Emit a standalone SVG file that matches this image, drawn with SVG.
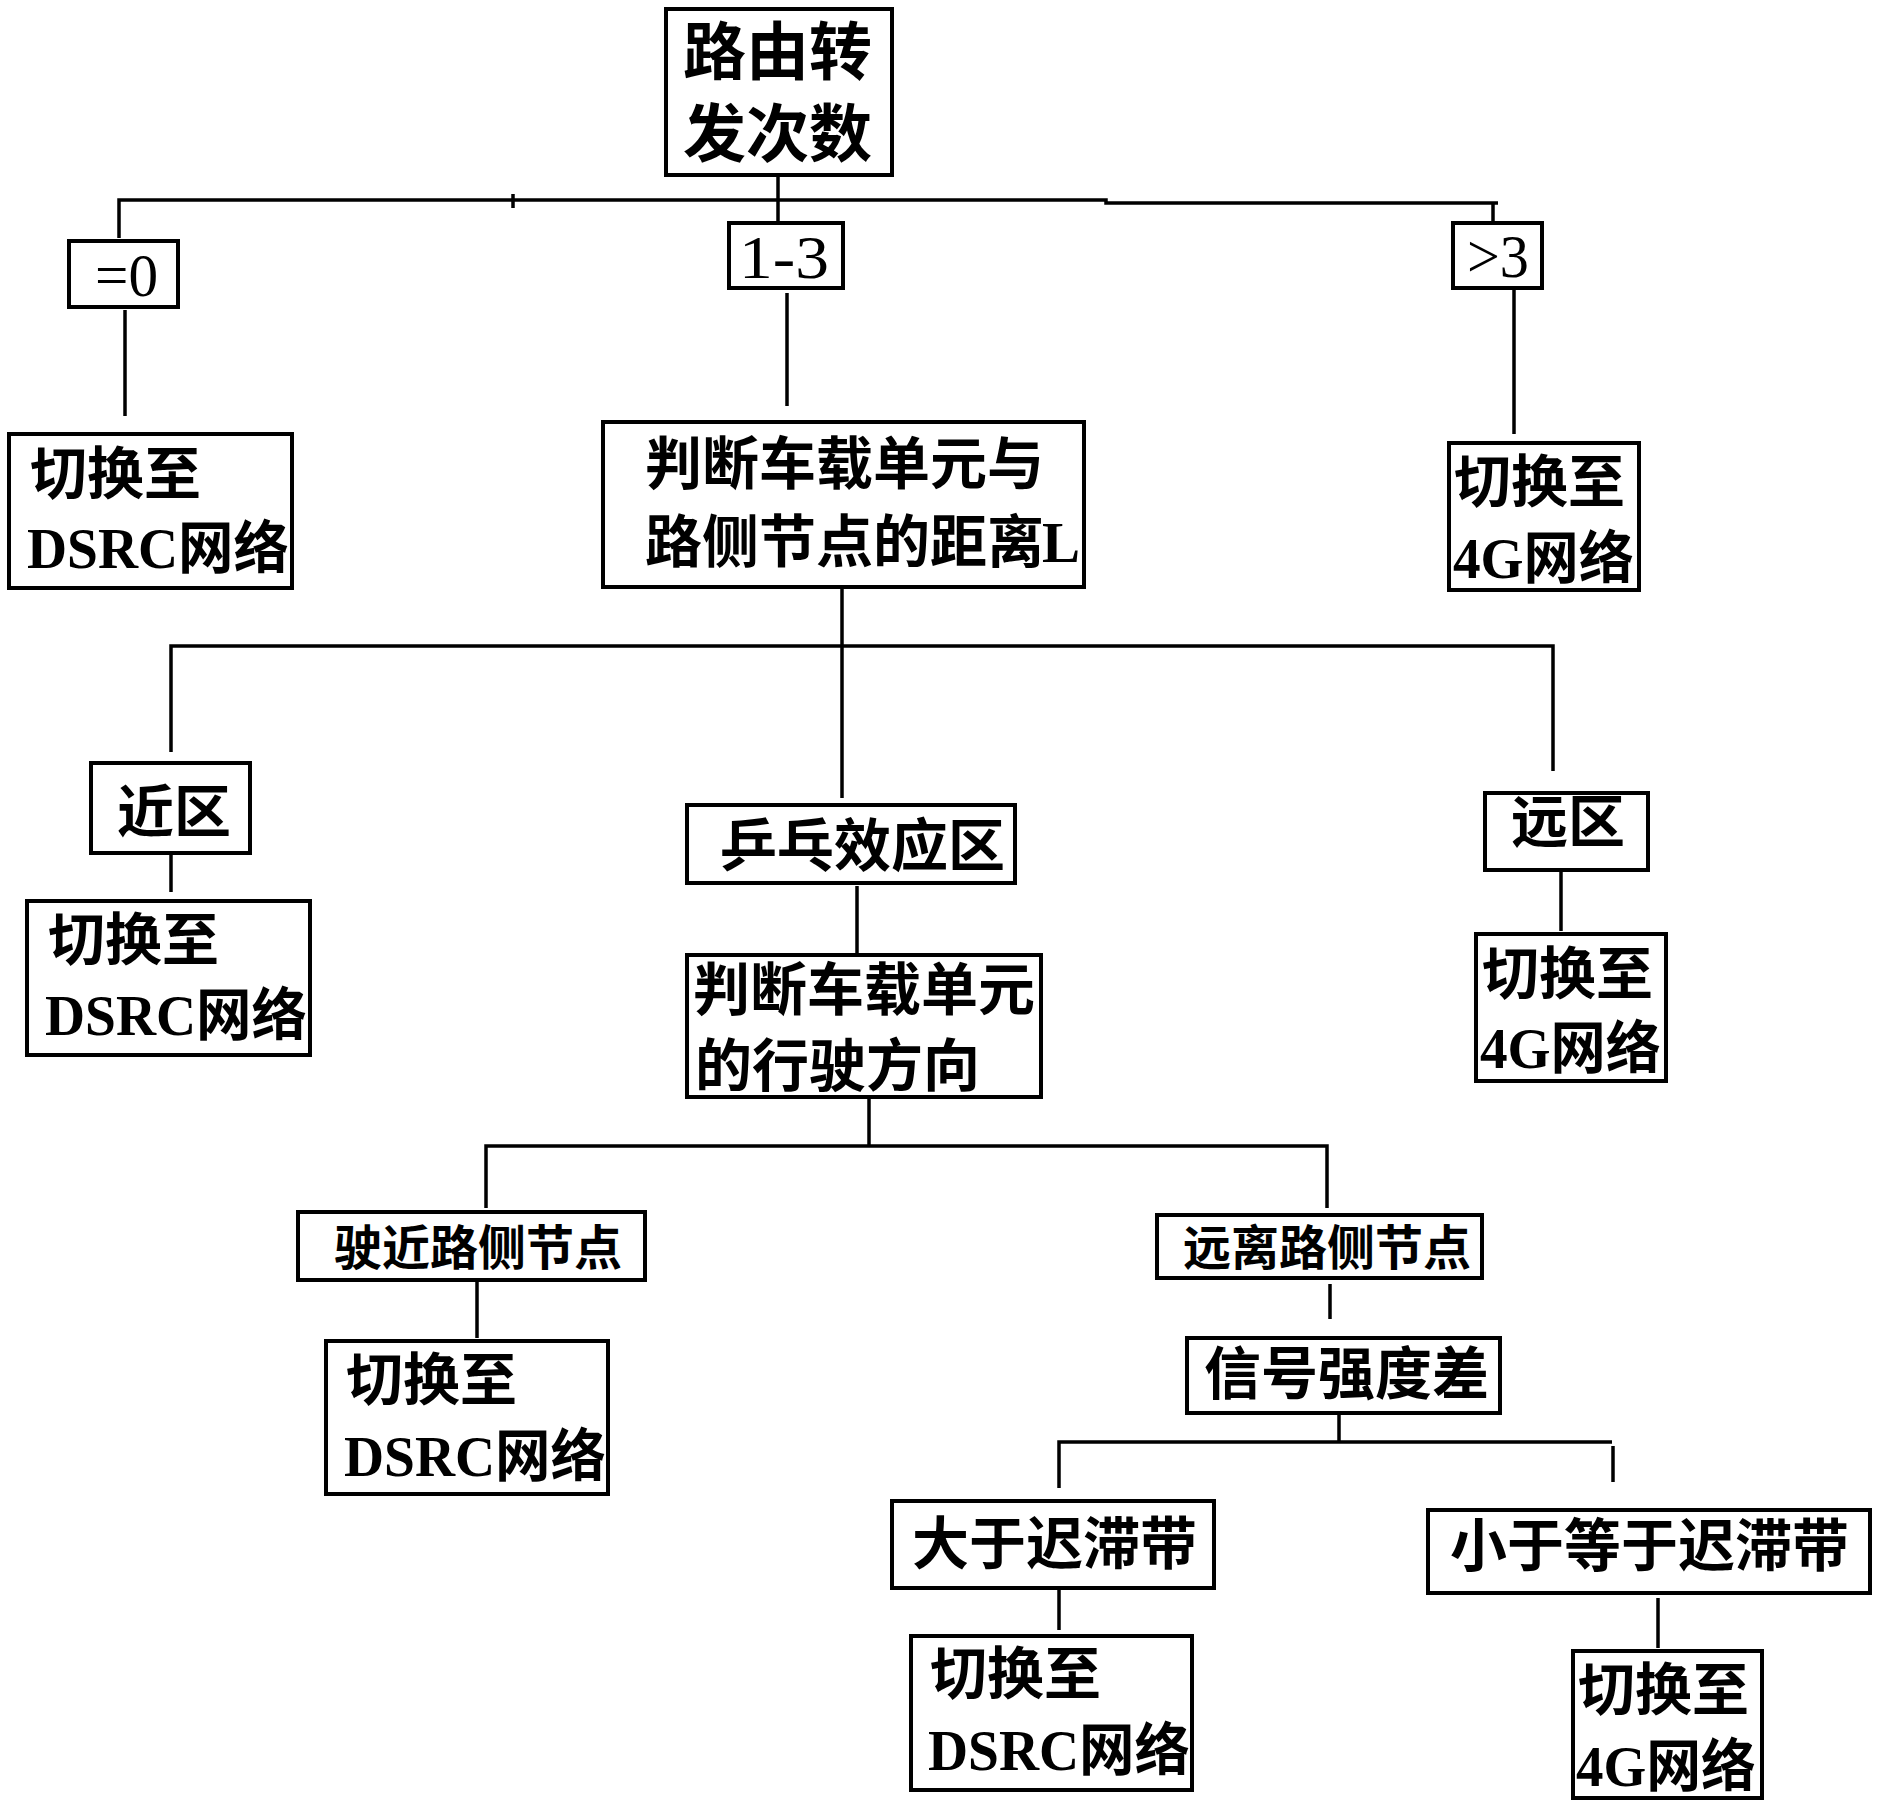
<svg xmlns="http://www.w3.org/2000/svg" width="1881" height="1809" viewBox="0 0 1881 1809">
<style>
.box{fill:#fff;stroke:#000;stroke-width:4}
.ln{fill:none;stroke:#000;stroke-width:3.5}
.cj{font-family:"Noto Sans CJK SC","Noto Sans CJK JP",sans-serif;font-size:57px;font-weight:bold;fill:#000}
.big{font-size:63px}
.sm{font-size:48px}
.lat{font-family:"Liberation Serif","Times New Roman",serif;font-weight:bold}
.num{font-family:"Liberation Serif","Times New Roman",serif;font-size:62px;fill:#000}
</style>
<rect width="1881" height="1809" fill="#fff"/>
<g id="connectors">
<path class="ln" d="M778 175V222"/>
<path class="ln" d="M119 238V200H1106V203H1498"/>
<path class="ln" d="M513 194V208"/>
<path class="ln" d="M1493 203V228"/>
<path class="ln" d="M125 310V416"/>
<path class="ln" d="M787 293V406"/>
<path class="ln" d="M1514 288V434"/>
<path class="ln" d="M842 587V798"/>
<path class="ln" d="M171 752V646H1553V771"/>
<path class="ln" d="M171 854V892"/>
<path class="ln" d="M857 886V954"/>
<path class="ln" d="M1561 872V931"/>
<path class="ln" d="M869 1097V1146"/>
<path class="ln" d="M486 1208V1146H1327V1208"/>
<path class="ln" d="M477 1280V1338"/>
<path class="ln" d="M1330 1284V1319"/>
<path class="ln" d="M1339 1413V1442"/>
<path class="ln" d="M1059 1488V1442H1612"/>
<path class="ln" d="M1613 1446V1482"/>
<path class="ln" d="M1059 1588V1630"/>
<path class="ln" d="M1658 1598V1648"/>
</g>
<g id="n-root">
<rect class="box" x="666" y="9" width="226" height="166"/>
<text class="cj big" x="683" y="74">路由转</text>
<text class="cj big" x="683" y="156">发次数</text>
</g>
<g id="n-eq0">
<rect class="box" x="69" y="241" width="109" height="66"/>
<text class="num" x="95" y="296" textLength="63" lengthAdjust="spacingAndGlyphs">=0</text>
</g>
<g id="n-1to3">
<rect class="box" x="729" y="223" width="114" height="65"/>
<text class="num" x="739" y="278" textLength="90" lengthAdjust="spacingAndGlyphs">1-3</text>
</g>
<g id="n-gt3">
<rect class="box" x="1453" y="223" width="89" height="65"/>
<text class="num" x="1467" y="277" textLength="62" lengthAdjust="spacingAndGlyphs">&gt;3</text>
</g>
<g id="n-dsrc1">
<rect class="box" x="9" y="434" width="283" height="154"/>
<text class="cj" x="30" y="494">切换至</text>
<text class="cj" x="27" y="568" textLength="262" lengthAdjust="spacingAndGlyphs"><tspan class="lat">DSRC</tspan>网络</text>
</g>
<g id="n-dist">
<rect class="box" x="603" y="422" width="481" height="165"/>
<text class="cj" x="645" y="484">判断车载单元与</text>
<text class="cj" x="645" y="562">路侧节点的距离<tspan class="lat" x="1042">L</tspan></text>
</g>
<g id="n-4g1">
<rect class="box" x="1449" y="443" width="190" height="147"/>
<text class="cj" x="1454" y="502">切换至</text>
<text class="cj" x="1453" y="578" textLength="181" lengthAdjust="spacingAndGlyphs"><tspan class="lat">4G</tspan>网络</text>
</g>
<g id="n-near">
<rect class="box" x="91" y="763" width="159" height="90"/>
<text class="cj" x="117" y="832">近区</text>
</g>
<g id="n-pingpong">
<rect class="box" x="687" y="805" width="328" height="78"/>
<text class="cj" x="720" y="866">乒乓效应区</text>
</g>
<g id="n-far">
<rect class="box" x="1485" y="793" width="163" height="77"/>
<text class="cj" x="1511" y="842">远区</text>
</g>
<g id="n-dsrc2">
<rect class="box" x="27" y="901" width="283" height="154"/>
<text class="cj" x="48" y="960">切换至</text>
<text class="cj" x="45" y="1035" textLength="262" lengthAdjust="spacingAndGlyphs"><tspan class="lat">DSRC</tspan>网络</text>
</g>
<g id="n-dir">
<rect class="box" x="687" y="955" width="354" height="142"/>
<text class="cj" x="693" y="1010">判断车载单元</text>
<text class="cj" x="695" y="1086">的行驶方向</text>
</g>
<g id="n-4g2">
<rect class="box" x="1476" y="934" width="190" height="147"/>
<text class="cj" x="1482" y="994">切换至</text>
<text class="cj" x="1480" y="1068" textLength="181" lengthAdjust="spacingAndGlyphs"><tspan class="lat">4G</tspan>网络</text>
</g>
<g id="n-approach">
<rect class="box" x="298" y="1212" width="347" height="68"/>
<text class="cj sm" x="334" y="1265">驶近路侧节点</text>
</g>
<g id="n-leave">
<rect class="box" x="1157" y="1215" width="325" height="63"/>
<text class="cj sm" x="1183" y="1265">远离路侧节点</text>
</g>
<g id="n-dsrc3">
<rect class="box" x="326" y="1341" width="282" height="153"/>
<text class="cj" x="346" y="1400">切换至</text>
<text class="cj" x="344" y="1476" textLength="262" lengthAdjust="spacingAndGlyphs"><tspan class="lat">DSRC</tspan>网络</text>
</g>
<g id="n-signal">
<rect class="box" x="1187" y="1338" width="313" height="75"/>
<text class="cj" x="1204" y="1394">信号强度差</text>
</g>
<g id="n-greater">
<rect class="box" x="892" y="1501" width="322" height="87"/>
<text class="cj" x="912" y="1564">大于迟滞带</text>
</g>
<g id="n-lesseq">
<rect class="box" x="1428" y="1510" width="442" height="83"/>
<text class="cj" x="1450" y="1566">小于等于迟滞带</text>
</g>
<g id="n-dsrc4">
<rect class="box" x="911" y="1636" width="281" height="154"/>
<text class="cj" x="930" y="1694">切换至</text>
<text class="cj" x="928" y="1770" textLength="262" lengthAdjust="spacingAndGlyphs"><tspan class="lat">DSRC</tspan>网络</text>
</g>
<g id="n-4g3">
<rect class="box" x="1573" y="1651" width="189" height="147"/>
<text class="cj" x="1578" y="1710">切换至</text>
<text class="cj" x="1576" y="1786" textLength="180" lengthAdjust="spacingAndGlyphs"><tspan class="lat">4G</tspan>网络</text>
</g>
</svg>
